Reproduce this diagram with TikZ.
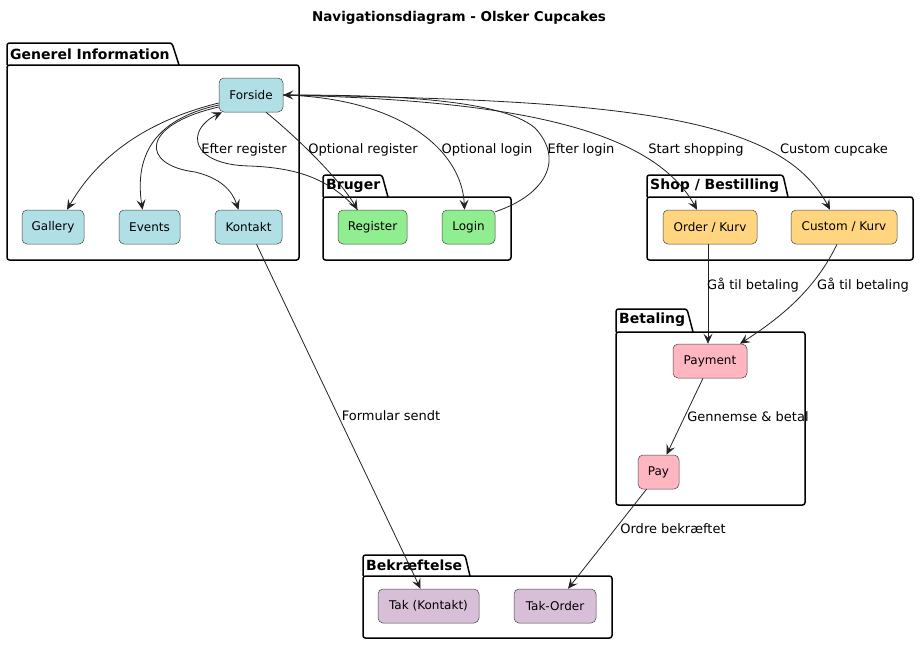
\documentclass[tikz,border=0pt]{standalone}
\usepackage{fontspec}
\setmainfont{DejaVu Sans}
\usetikzlibrary{arrows.meta}
\definecolor{cblue}{HTML}{B0E0E6}
\definecolor{cgreen}{HTML}{90EE90}
\definecolor{corange}{HTML}{FFD580}
\definecolor{cpink}{HTML}{FFB6C1}
\definecolor{cpurple}{HTML}{D8BFD8}
\definecolor{cedge}{HTML}{222222}
\definecolor{cbord}{HTML}{444444}
\begin{document}
\begin{tikzpicture}[x=1pt,y=-1pt,
  nd/.style={draw=cbord, line width=0.5pt, rounded corners=5pt, minimum height=34pt, inner sep=0pt, font=\fontsize{12}{14}\selectfont},
  pkgline/.style={draw=black, line width=1.5pt, rounded corners=2.5pt},
  pkgtitle/.style={anchor=west, inner sep=0pt, font=\bfseries\fontsize{14}{16}\selectfont},
  lbl/.style={inner sep=0pt, font=\fontsize{13}{15}\selectfont},
  conn/.style={draw=cedge, line width=0.8pt, -{Stealth[length=10pt,width=9pt,inset=4pt]}}]
\useasboundingbox (0,0) rectangle (919,645);
\node[font=\bfseries\fontsize{13.5}{16}\selectfont] (title) at (459,18) {Navigationsdiagram - Olsker Cupcakes};

% packages
\draw[pkgline] (7,65) -- (7,43) -- (172,43) -- (179,65);
\draw[pkgline] (7,65) rectangle (299,260);
\node[pkgtitle] (tgen) at (10,54) {Generel Information};

\draw[pkgline] (323,197) -- (323,175) -- (382,175) -- (388,197);
\draw[pkgline] (323,197) rectangle (511,260);
\node[pkgtitle] (tbru) at (326,186) {Bruger};

\draw[pkgline] (647,197) -- (647,175) -- (783,175) -- (788,197);
\draw[pkgline] (647,197) rectangle (913,260);
\node[pkgtitle] (tshop) at (650,186) {Shop / Bestilling};

\draw[pkgline] (616,332) -- (616,309) -- (687,309) -- (693,332);
\draw[pkgline] (616,332) rectangle (805,505);
\node[pkgtitle] (tbet) at (619,320) {Betaling};

\draw[pkgline] (363,576) -- (363,555) -- (465,555) -- (470,576);
\draw[pkgline] (363,576) rectangle (612,638);
\node[pkgtitle] (tbek) at (366,565) {Bekræftelse};

% nodes
\node[nd, fill=cblue, minimum width=64pt] (forside) at (251,95) {Forside};
\node[nd, fill=cblue, minimum width=62pt] (gallery) at (53,227) {Gallery};
\node[nd, fill=cblue, minimum width=61pt] (events) at (149.5,227) {Events};
\node[nd, fill=cblue, minimum width=67pt] (kontakt) at (248.5,227) {Kontakt};
\node[nd, fill=cgreen, minimum width=69pt] (register) at (372.5,227) {Register};
\node[nd, fill=cgreen, minimum width=53pt] (login) at (468.5,227) {Login};
\node[nd, fill=corange, minimum width=94pt] (order) at (710,227) {Order / Kurv};
\node[nd, fill=corange, minimum width=106pt] (custom) at (844,227) {Custom / Kurv};
\node[nd, fill=cpink, minimum width=74pt] (payment) at (710,361) {Payment};
\node[nd, fill=cpink, minimum width=41pt] (pay) at (658.5,472) {Pay};
\node[nd, fill=cpurple, minimum width=101pt] (takk) at (428.5,606) {Tak (Kontakt)};
\node[nd, fill=cpurple, minimum width=82pt] (tako) at (555,606) {Tak-Order};

% connectors
\draw[conn] ([yshift=-8pt]forside.west) .. controls (130,125) and (90,170) .. ([xshift=14pt]gallery.north);
\draw[conn] ([yshift=-10pt]forside.west) .. controls (150,120) and (135,160) .. ([xshift=-7pt]events.north);
\draw[conn] ([yshift=-12pt]forside.west) .. controls (140,125) and (140,165) .. (195,172) .. controls (220,178) and (232,190) .. ([xshift=-10pt]kontakt.north);

\draw[conn] ([xshift=15pt]forside.south) .. controls (300,140) and (340,180) .. ([xshift=-15pt]register.north);
\draw[conn] ([xshift=-15pt]register.north) .. controls (330,180) and (300,168) .. (250,166) .. controls (190,165) and (185,130) .. ([xshift=-29pt]forside.south);

\draw[conn] (forside.east) .. controls (400,98) and (462,150) .. ([xshift=-4pt]login.north);
\draw[conn] ([yshift=-2pt]login.north east) .. controls (545,195) and (565,160) .. (535,128) .. controls (500,98) and (380,95) .. (forside.east);

\draw[conn] (forside.east) .. controls (500,100) and (650,125) .. ([xshift=-13pt]order.north);
\draw[conn] (forside.east) .. controls (620,100) and (780,115) .. ([xshift=-14pt]custom.north);

\draw[conn] ([xshift=-2pt]order.south) -- ([xshift=-2pt]payment.north);
\draw[conn] ([xshift=-7pt]custom.south) .. controls (815,290) and (780,318) .. ([xshift=30pt]payment.north);
\draw[conn] ([xshift=-7pt]payment.south) -- ([xshift=8pt]pay.north);
\draw[conn] ([xshift=-12pt]pay.south) -- ([xshift=13pt]tako.north);
\draw[conn] ([xshift=8pt]kontakt.south) -- ([xshift=-8pt]takk.north);

% labels
\node[lbl] (l1) at (244,150) {Efter register};
\node[lbl] (l2) at (363,150) {Optional register};
\node[lbl] (l3) at (487,150) {Optional login};
\node[lbl] (l4) at (581,150) {Efter login};
\node[lbl] (l5) at (696,150) {Start shopping};
\node[lbl] (l6) at (834,150) {Custom cupcake};
\node[lbl] (l7) at (753,285) {Gå til betaling};
\node[lbl] (l8) at (863,285) {Gå til betaling};
\node[lbl] (l9) at (748,417) {Gennemse \& betal};
\node[lbl] (l10) at (673,529) {Ordre bekræftet};
\node[lbl] (l11) at (391,416) {Formular sendt};
\end{tikzpicture}
\end{document}
